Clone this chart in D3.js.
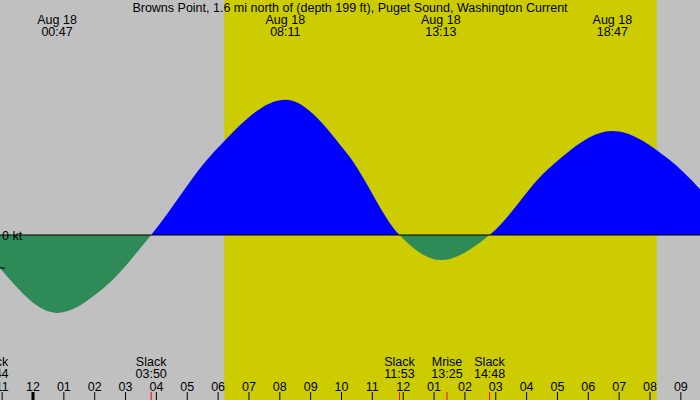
<!DOCTYPE html>
<html><head><meta charset="utf-8">
<script src="https://cdn.jsdelivr.net/npm/d3@7"></script>
<style>body{margin:0;background:#c0c0c0}svg{display:block}text{font-family:"Liberation Sans",Arial,sans-serif;font-size:12.5px;fill:#000}</style>
</head><body>
<svg id="c" width="700" height="400"></svg>
<script>
// hours since midnight Aug 18 and current in knots
const hours = [-2.0,-1.07,0.78,2.3,3.83,5.9,8.18,10.2,11.88,13.22,14.8,16.7,18.78,20.6,22.0];
const knots = [0.2,-1.0,-2.36,-1.6,0.0,2.55,4.1,2.45,0.0,-0.76,0.0,2.0,3.15,2.3,1.0];
const topLabels = [{h:0.78,d:"Aug 18",t:"00:47"},{h:8.18,d:"Aug 18",t:"08:11"},{h:13.22,d:"Aug 18",t:"13:13"},{h:18.78,d:"Aug 18",t:"18:47"}];
const events = [{h:-1.3,n:"Slack",t:"22:44"},{h:3.83,n:"Slack",t:"03:50"},{h:11.88,n:"Slack",t:"11:53"},{h:13.42,n:"Mrise",t:"13:25"},{h:14.8,n:"Slack",t:"14:48"},{h:22.2,n:"",t:"22:12"}];
const hourTicks = d3.range(-1,22);
const dayStart = 6.2, dayEnd = 20.22;
const title = "Browns Point, 1.6 mi north of (depth 199 ft), Puget Sound, Washington Current";

const svg = d3.select("#c");
const x = d3.scaleLinear().domain([0,1]).range([33,63.85]);
const y = d3.scaleLinear().domain([0,1]).range([235,202]);

svg.append("rect").attr("x",0).attr("y",0).attr("width",700).attr("height",400).attr("fill","#c0c0c0");
svg.append("rect").attr("x",x(dayStart)).attr("y",0).attr("width",x(dayEnd)-x(dayStart)).attr("height",400).attr("fill","#cccc00");

const pts = hours.map((h,i)=>[h,knots[i]]);
const defs = svg.append("defs");
defs.append("clipPath").attr("id","pos").append("rect").attr("x",0).attr("y",0).attr("width",700).attr("height",y(0));
defs.append("clipPath").attr("id","neg").append("rect").attr("x",0).attr("y",y(0)).attr("width",700).attr("height",400-y(0));
const area = d3.area().x(d=>x(d[0])).y0(y(0)).y1(d=>y(d[1])).curve(d3.curveMonotoneX);
svg.append("path").datum(pts).attr("d",area).attr("fill","#0000ff").attr("clip-path","url(#pos)");
svg.append("path").datum(pts).attr("d",area).attr("fill","#2e8b57").attr("clip-path","url(#neg)");
svg.append("line").attr("x1",0).attr("x2",700).attr("y1",y(0)).attr("y2",y(0)).attr("stroke","#000").attr("stroke-width",1);
svg.append("text").attr("x",2).attr("y",y(0)+5).text("0 kt");
svg.append("line").attr("x1",0).attr("x2",5).attr("y1",y(-1)).attr("y2",y(-1)).attr("stroke","#000");

svg.append("text").attr("x",350).attr("y",12).attr("text-anchor","middle").text(title);
topLabels.forEach(l=>{
  svg.append("text").attr("x",x(l.h)).attr("y",24).attr("text-anchor","middle").text(l.d);
  svg.append("text").attr("x",x(l.h)).attr("y",36).attr("text-anchor","middle").text(l.t);
});
events.forEach(e=>{
  if(e.n) svg.append("text").attr("x",x(e.h)).attr("y",366).attr("text-anchor","middle").text(e.n);
  svg.append("text").attr("x",x(e.h)).attr("y",378).attr("text-anchor","middle").text(e.t);
  svg.append("line").attr("x1",x(e.h)).attr("x2",x(e.h)).attr("y1",392).attr("y2",400).attr("stroke","#ff0000");
});
hourTicks.forEach(h=>{
  const hh = ((h%12)+12)%12 || 12;
  svg.append("text").attr("x",x(h)).attr("y",391).attr("text-anchor","middle").text(d3.format("02")(hh));
  svg.append("line").attr("x1",x(h)).attr("x2",x(h)).attr("y1",392).attr("y2",400).attr("stroke","#000").attr("stroke-width",h===0?3:1);
});
</script>
</body></html>
